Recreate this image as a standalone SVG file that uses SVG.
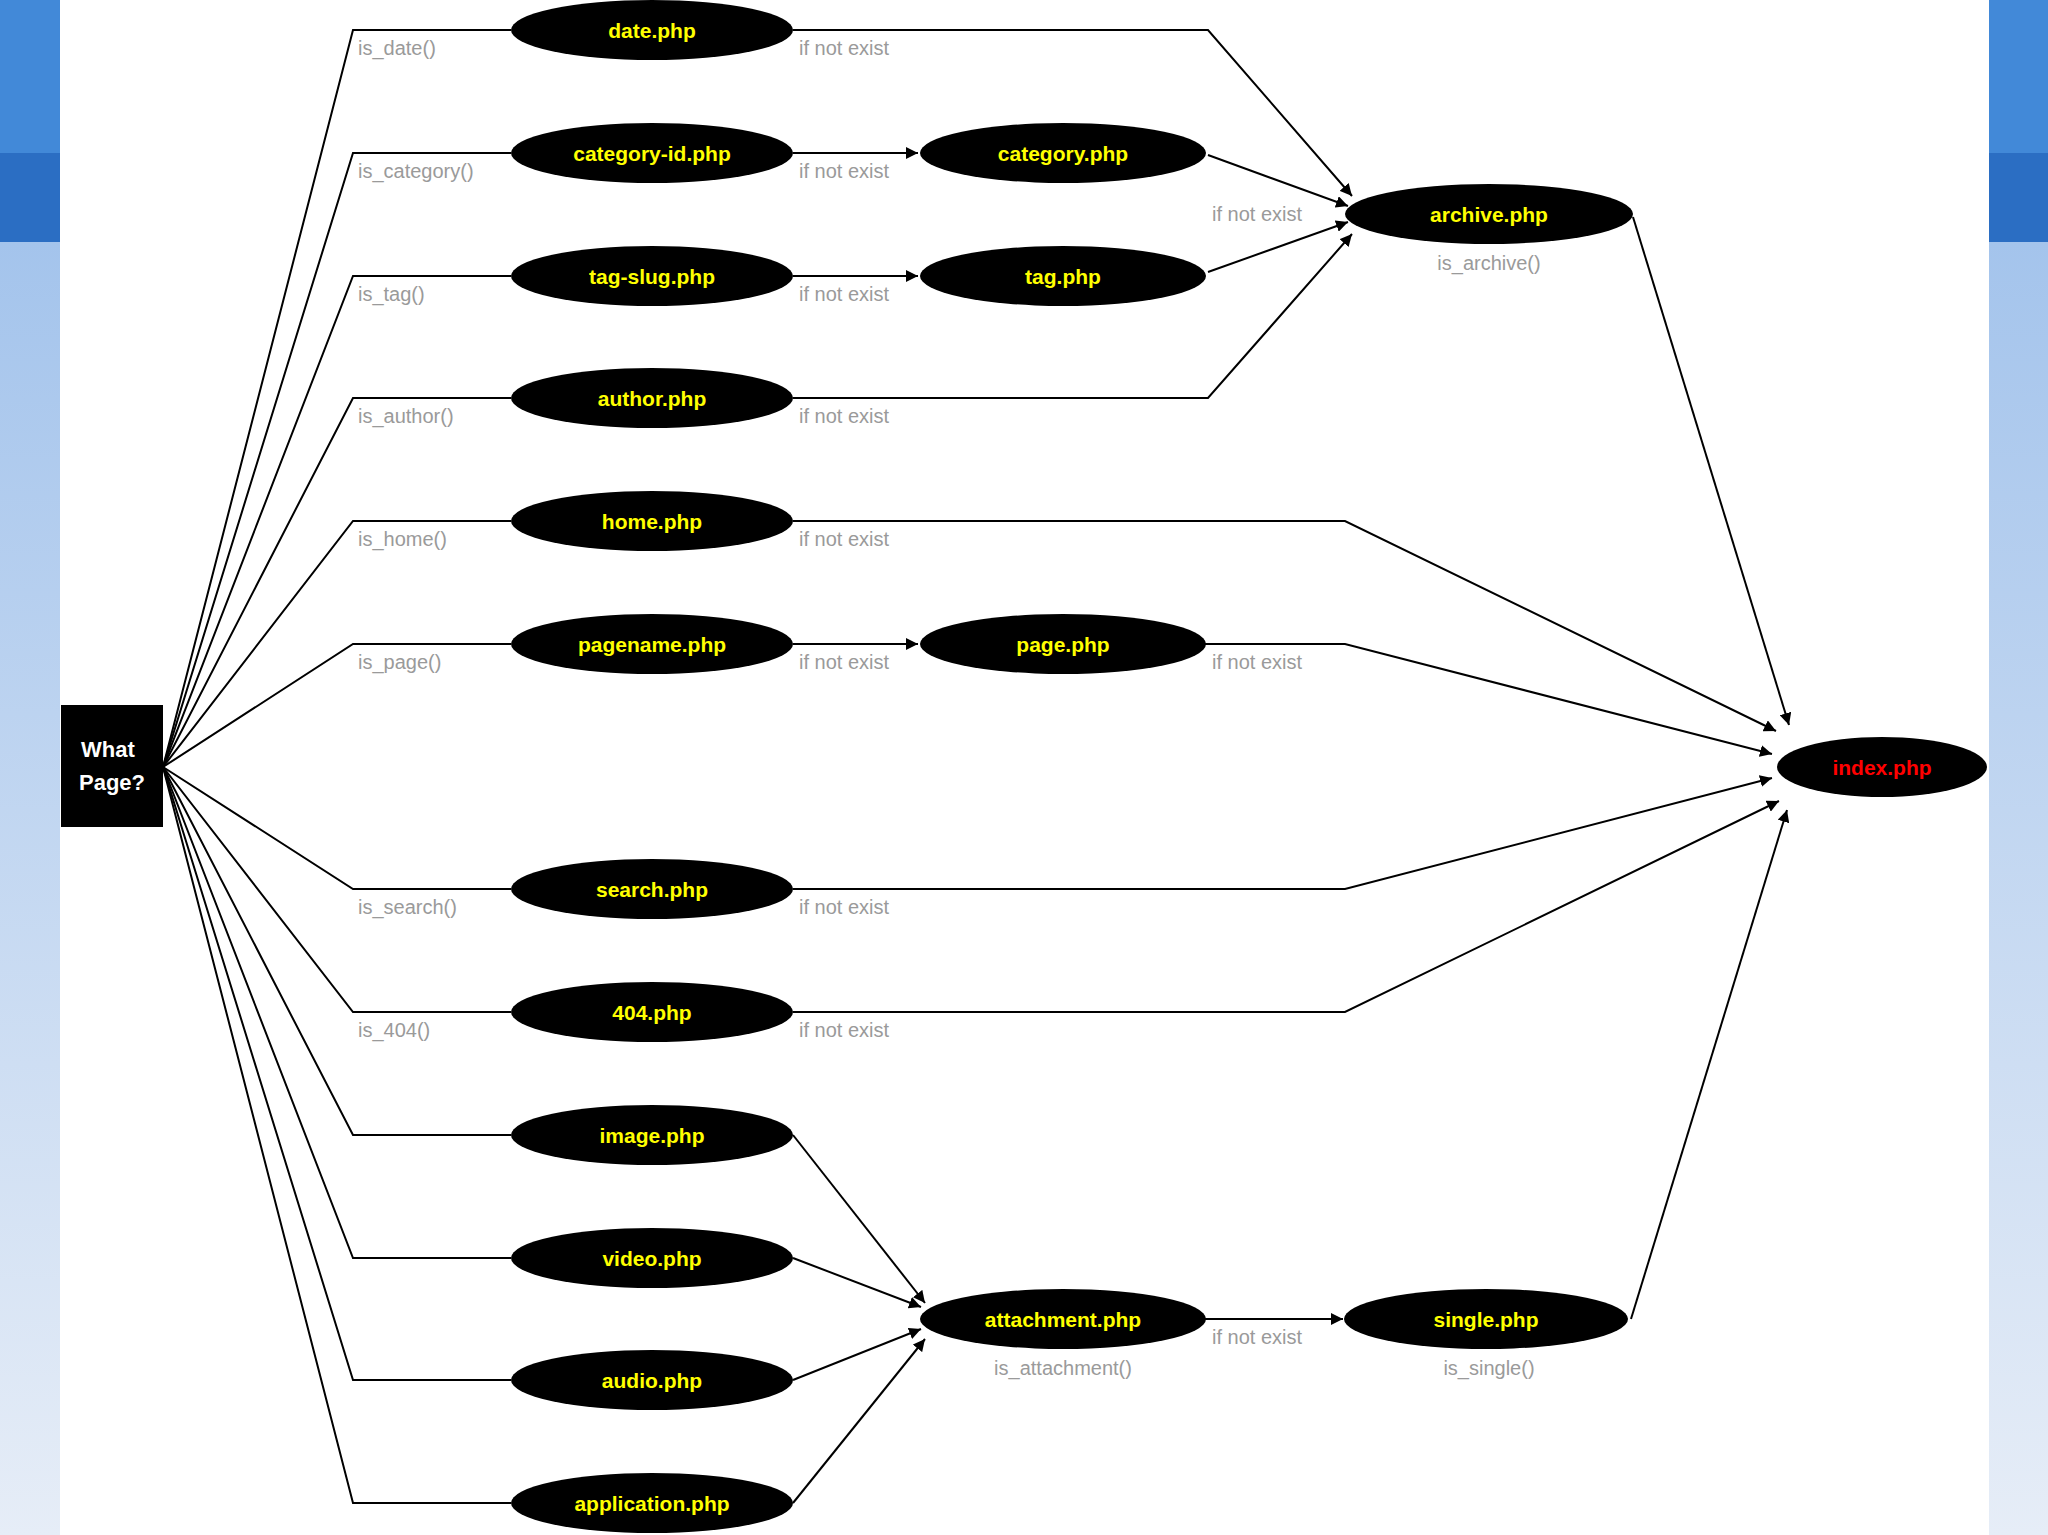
<svg xmlns="http://www.w3.org/2000/svg" width="2048" height="1535" viewBox="0 0 2048 1535">
<defs>
<linearGradient id="side" x1="0" y1="0" x2="0" y2="1"><stop offset="0" stop-color="#a4c4ec"/><stop offset="1" stop-color="#e6edf7"/></linearGradient>
<marker id="ah" viewBox="0 0 10 10" refX="10" refY="5" markerWidth="12" markerHeight="12" markerUnits="userSpaceOnUse" orient="auto"><path d="M0,0 L10,5 L0,10 z" fill="#000"/></marker>
<style>
.e{fill:#000}
.t{font-family:"Liberation Sans",Arial,sans-serif;font-weight:bold;font-size:21px;fill:#ffff00;text-anchor:middle}
.g{font-family:"Liberation Sans",Arial,sans-serif;font-size:20px;fill:#9a9a9a}
.c path{fill:none;stroke:#000;stroke-width:2}
.a{marker-end:url(#ah)}
</style>
</defs>
<rect width="2048" height="1535" fill="#fff"/>
<rect x="0" y="242" width="60" height="1293" fill="url(#side)"/>
<rect x="0" y="0" width="60" height="153" fill="#4289d8"/>
<rect x="0" y="153" width="60" height="89" fill="#2b6ec3"/>
<rect x="1989" y="242" width="59" height="1293" fill="url(#side)"/>
<rect x="1989" y="0" width="59" height="153" fill="#4289d8"/>
<rect x="1989" y="153" width="59" height="89" fill="#2b6ec3"/>

<g id="connectors" class="c">
<path d="M163,767 L353,30 H511"/><path d="M163,767 L353,153 H511"/><path d="M163,767 L353,276 H511"/><path d="M163,767 L353,398 H511"/><path d="M163,767 L353,521 H511"/><path d="M163,767 L353,644 H511"/><path d="M163,767 L353,889 H511"/><path d="M163,767 L353,1012 H511"/><path d="M163,767 L353,1135 H511"/><path d="M163,767 L353,1258 H511"/><path d="M163,767 L353,1380 H511"/><path d="M163,767 L353,1503 H511"/>
<path class="a" d="M793,153 H918"/><path class="a" d="M793,276 H918"/><path class="a" d="M793,644 H918"/>
<path class="a" d="M793,30 H1208 L1352,196"/>
<path class="a" d="M1208,155 L1348,206"/>
<path class="a" d="M1208,272 L1348,222"/>
<path class="a" d="M793,398 H1208 L1352,234"/>
<path class="a" d="M1633,217 L1789,725"/>
<path class="a" d="M793,521 H1345 L1776,731"/>
<path class="a" d="M1205,644 H1345 L1772,754"/>
<path class="a" d="M793,889 H1345 L1772,778"/>
<path class="a" d="M793,1012 H1345 L1779,801"/>
<path class="a" d="M1631,1319 L1787,810"/>
<path class="a" d="M793,1135 L925,1303"/>
<path class="a" d="M793,1258 L921,1307"/>
<path class="a" d="M793,1380 L921,1329"/>
<path class="a" d="M793,1503 L925,1339"/>
<path class="a" d="M1205,1319 H1343"/>
</g>

<g id="what"><rect x="61" y="705" width="102" height="122" fill="#000"/><text x="108" y="757" class="t" style="fill:#fff;font-size:22px">What</text><text x="112" y="790" class="t" style="fill:#fff;font-size:22px">Page?</text></g>

<g id="date"><ellipse class="e" cx="652" cy="30" rx="141" ry="30"/><text class="t" x="652" y="38">date.php</text></g>
<g id="categoryid"><ellipse class="e" cx="652" cy="153" rx="141" ry="30"/><text class="t" x="652" y="161">category-id.php</text></g>
<g id="tagslug"><ellipse class="e" cx="652" cy="276" rx="141" ry="30"/><text class="t" x="652" y="284">tag-slug.php</text></g>
<g id="author"><ellipse class="e" cx="652" cy="398" rx="141" ry="30"/><text class="t" x="652" y="406">author.php</text></g>
<g id="home"><ellipse class="e" cx="652" cy="521" rx="141" ry="30"/><text class="t" x="652" y="529">home.php</text></g>
<g id="pagename"><ellipse class="e" cx="652" cy="644" rx="141" ry="30"/><text class="t" x="652" y="652">pagename.php</text></g>
<g id="search"><ellipse class="e" cx="652" cy="889" rx="141" ry="30"/><text class="t" x="652" y="897">search.php</text></g>
<g id="p404"><ellipse class="e" cx="652" cy="1012" rx="141" ry="30"/><text class="t" x="652" y="1020">404.php</text></g>
<g id="image"><ellipse class="e" cx="652" cy="1135" rx="141" ry="30"/><text class="t" x="652" y="1143">image.php</text></g>
<g id="video"><ellipse class="e" cx="652" cy="1258" rx="141" ry="30"/><text class="t" x="652" y="1266">video.php</text></g>
<g id="audio"><ellipse class="e" cx="652" cy="1380" rx="141" ry="30"/><text class="t" x="652" y="1388">audio.php</text></g>
<g id="application"><ellipse class="e" cx="652" cy="1503" rx="141" ry="30"/><text class="t" x="652" y="1511">application.php</text></g>
<g id="category"><ellipse class="e" cx="1063" cy="153" rx="143" ry="30"/><text class="t" x="1063" y="161">category.php</text></g>
<g id="tag"><ellipse class="e" cx="1063" cy="276" rx="143" ry="30"/><text class="t" x="1063" y="284">tag.php</text></g>
<g id="page"><ellipse class="e" cx="1063" cy="644" rx="143" ry="30"/><text class="t" x="1063" y="652">page.php</text></g>
<g id="attachment"><ellipse class="e" cx="1063" cy="1319" rx="143" ry="30"/><text class="t" x="1063" y="1327">attachment.php</text></g>
<g id="archive"><ellipse class="e" cx="1489" cy="214" rx="144" ry="30"/><text class="t" x="1489" y="222">archive.php</text></g>
<g id="single"><ellipse class="e" cx="1486" cy="1319" rx="142" ry="30"/><text class="t" x="1486" y="1327">single.php</text></g>
<g id="index"><ellipse class="e" cx="1882" cy="767" rx="105" ry="30"/><text class="t" x="1882" y="775" style="fill:#ff0000">index.php</text></g>

<g id="labels">
<text class="g" x="358" y="55">is_date()</text>
<text class="g" x="358" y="178">is_category()</text>
<text class="g" x="358" y="301">is_tag()</text>
<text class="g" x="358" y="423">is_author()</text>
<text class="g" x="358" y="546">is_home()</text>
<text class="g" x="358" y="669">is_page()</text>
<text class="g" x="358" y="914">is_search()</text>
<text class="g" x="358" y="1037">is_404()</text>
<text class="g" x="799" y="55">if not exist</text>
<text class="g" x="799" y="178">if not exist</text>
<text class="g" x="799" y="301">if not exist</text>
<text class="g" x="799" y="423">if not exist</text>
<text class="g" x="799" y="546">if not exist</text>
<text class="g" x="799" y="669">if not exist</text>
<text class="g" x="799" y="914">if not exist</text>
<text class="g" x="799" y="1037">if not exist</text>
<text class="g" x="1212" y="221">if not exist</text>
<text class="g" x="1212" y="669">if not exist</text>
<text class="g" x="1212" y="1344">if not exist</text>
<text class="g" x="1489" y="270" text-anchor="middle">is_archive()</text>
<text class="g" x="1063" y="1375" text-anchor="middle">is_attachment()</text>
<text class="g" x="1489" y="1375" text-anchor="middle">is_single()</text>
</g>
</svg>
